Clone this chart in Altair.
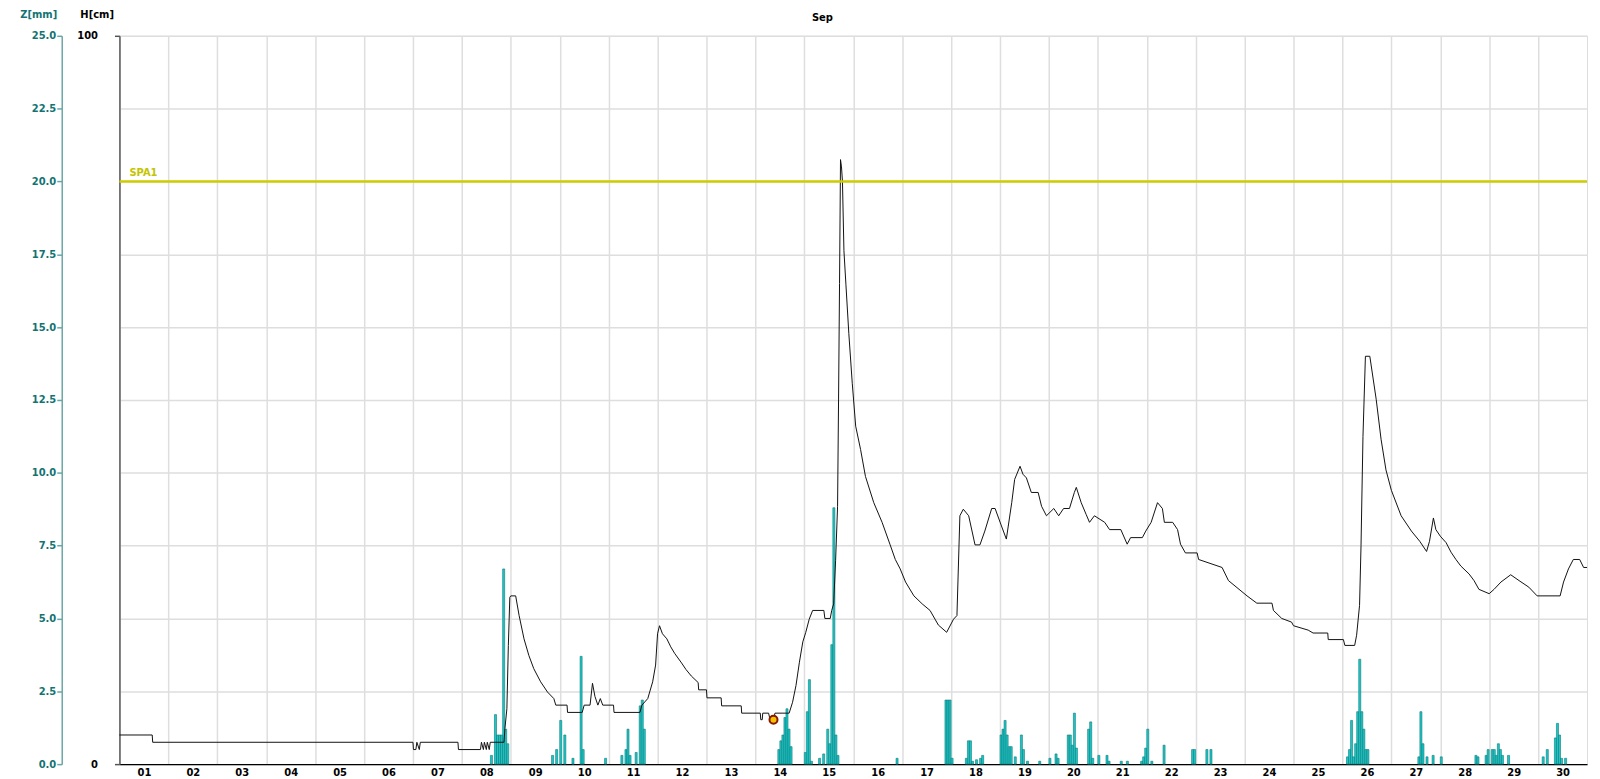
import altair as alt
import pandas as pd

# ---------------- data ----------------
# water level H [cm]; time in days elapsed since 1 Sep 00:00
line_t = [
    0.00, 0.67, 0.68, 6.00, 6.01, 6.06, 6.08, 6.13, 6.15, 6.92, 6.93, 7.38, 7.40, 7.44, 7.46, 7.50, 7.52, 7.56, 7.58, 7.86,
    7.88, 7.92, 7.95, 7.98, 8.00, 8.10, 8.17, 8.27, 8.37, 8.47, 8.61, 8.75, 8.88, 8.92, 9.15, 9.16, 9.46, 9.50, 9.62, 9.67,
    9.72, 9.78, 9.83, 9.88, 10.10, 10.11, 10.64,
    10.68, 10.80, 10.90, 10.96, 11.00, 11.04, 11.10, 11.19, 11.27, 11.35, 11.49, 11.58, 11.69, 11.83, 11.84, 12.00, 12.01,
    12.30, 12.31, 12.71, 12.72, 13.10, 13.11, 13.14, 13.15, 13.27, 13.30, 13.37, 13.40, 13.69,
    13.76, 13.83, 13.90, 13.97, 14.03, 14.10, 14.17, 14.40, 14.42, 14.53, 14.56, 14.60, 14.64, 14.68, 14.70, 14.72, 14.74,
    14.76, 14.78, 14.81, 14.85, 14.91, 14.98, 15.05, 15.15, 15.25, 15.42, 15.59, 15.75, 15.86, 15.96, 16.07, 16.24, 16.41,
    16.57, 16.74, 16.91,
    17.05, 17.12, 17.18, 17.25, 17.36, 17.49, 17.59, 17.69, 17.83, 17.90, 18.03, 18.13, 18.24, 18.30, 18.41, 18.47, 18.54,
    18.64, 18.78, 18.85, 18.95, 19.10, 19.20, 19.30, 19.42, 19.52, 19.56, 19.66, 19.76, 19.83, 19.93, 20.14, 20.24, 20.47,
    20.60, 20.67, 20.91, 20.98, 21.09, 21.22, 21.32, 21.36, 21.53, 21.63, 21.69, 21.79, 22.03, 22.06, 22.54, 22.67, 23.05,
    23.25, 23.56, 23.59, 23.76, 23.96, 24.00, 24.30, 24.40, 24.70, 24.71, 25.02, 25.05, 25.25, 25.29,
    25.35, 25.38, 25.42, 25.47, 25.56, 25.69, 25.79, 25.89, 26.00, 26.20, 26.41, 26.58, 26.72, 26.78, 26.86, 26.91, 27.00,
    27.12, 27.22, 27.32, 27.42, 27.59, 27.69, 27.79, 28.00, 28.10, 28.24, 28.44, 28.61, 28.81, 28.98, 29.45, 29.52, 29.62,
    29.72, 29.85, 29.93, 30.00,
]
line_cm = [
    4.0, 4.0, 3.0, 3.0, 2.0, 2.0, 3.0, 2.0, 3.0, 3.0, 2.0, 2.0, 3.0, 2.0, 3.0, 2.0, 3.0, 2.0, 3.0, 3.0,
    4.9, 7.6, 16.3, 22.9, 23.1, 23.1, 20.4, 17.2, 14.9, 13.1, 11.3, 9.9, 9.0, 8.1, 8.1, 7.1, 7.1, 8.1, 8.1, 11.1,
    9.3, 8.1, 9.0, 8.1, 8.1, 7.1, 7.1,
    8.1, 9.0, 11.3, 13.6, 17.9, 19.0, 17.9, 17.2, 16.1, 15.2, 13.9, 13.0, 12.1, 11.2, 10.2, 10.2, 9.1,
    9.1, 8.0, 8.0, 7.0, 7.0, 6.1, 6.1, 7.0, 7.0, 6.1, 6.1, 7.0, 7.0,
    8.5, 10.8, 14.0, 16.8, 18.1, 19.9, 21.1, 21.1, 20.0, 20.0, 21.1, 22.0, 28.0, 35.4, 50.0, 66.0, 83.0,
    82.0, 80.0, 70.5, 65.9, 59.1, 52.3, 46.4, 43.2, 39.5, 35.9, 33.2, 30.2, 28.1, 26.8, 25.0, 23.1, 22.0,
    21.1, 19.1, 18.1,
    19.9, 20.4, 34.1, 35.0, 34.1, 30.1, 30.1, 32.0, 35.1, 35.1, 32.7, 30.9, 35.9, 39.1, 40.9, 39.8, 39.3,
    37.3, 37.3, 35.4, 34.1, 35.1, 34.1, 35.1, 35.1, 37.3, 38.0, 35.9, 34.3, 33.2, 34.1, 33.2, 32.2, 32.2,
    30.2, 31.1, 31.1, 32.0, 33.2, 35.9, 35.1, 33.2, 33.2, 32.2, 30.2, 29.0, 29.0, 28.1, 27.0, 25.2, 23.1,
    22.1, 22.1, 21.1, 20.0, 19.5, 19.0, 18.4, 18.0, 18.0, 17.1, 17.1, 16.3, 16.3, 17.7,
    21.8, 30.0, 45.0, 56.0, 56.0, 50.1, 44.6, 40.4, 37.6, 34.1, 32.0, 30.6, 29.2, 30.6, 33.8, 32.2, 31.3,
    30.4, 29.1, 28.1, 27.2, 26.1, 25.2, 24.0, 23.4, 24.0, 25.0, 26.0, 25.2, 24.3, 23.1, 23.1, 25.0, 26.8,
    28.1, 28.1, 27.0, 27.0,
]

# hourly precipitation Z [mm]: day of month, hour of day, amount
bar_day = [8, 8, 8, 8, 8, 8, 8, 8,
           9, 9, 10, 10, 10, 10, 10, 10,
           11, 11, 11, 11, 11, 11, 11, 11,
           14, 14, 14, 14, 14, 14, 14,
           15, 15, 15, 15, 15, 15, 15, 15, 15, 15, 15, 15,
           16, 17, 17, 17, 18,
           18, 18, 18, 18, 18, 18, 18,
           19, 19, 19, 19, 19, 19, 19, 19, 19, 19, 19,
           20, 20, 20, 20, 20, 20, 20, 20, 20, 20, 20,
           21, 21, 21, 21, 21, 21, 21, 21,
           22, 22, 22, 22, 22, 23, 23,
           26, 26, 26, 26, 26, 26, 26, 26, 26, 26, 26,
           27, 27, 27, 27, 27,
           28, 28, 28, 28, 28,
           29, 29, 29, 29, 29, 29, 29,
           30, 30, 30, 30, 30, 30, 30]
bar_hour = [14, 16, 17, 18, 19, 20, 21, 22,
            20, 22, 0, 2, 6, 10, 11, 22,
            6, 8, 9, 10, 13, 15, 16, 17,
            11, 12, 13, 14, 15, 16, 17,
            0, 1, 2, 3, 7, 9, 11, 12, 13, 14, 15, 16,
            21, 21, 22, 23, 0,
            7, 8, 9, 10, 12, 14, 15,
            0, 1, 2, 3, 4, 5, 7, 10, 11, 13, 19,
            0, 3, 4, 9, 10, 11, 12, 13, 19, 20, 21,
            0, 4, 5, 11, 14, 21, 22, 23,
            0, 2, 8, 22, 23, 5, 7,
            2, 3, 4, 5, 6, 7, 8, 9, 10, 11, 12,
            13, 14, 15, 17, 20,
            0, 17, 18, 22, 23,
            1, 2, 3, 4, 5, 6, 9,
            2, 4, 8, 9, 10, 11, 13]
bar_mm = [0.3, 1.7, 1.0, 1.0, 1.0, 6.7, 1.2, 0.7,
          0.3, 0.5, 1.5, 1.0, 0.2, 3.7, 0.5, 0.2,
          0.3, 0.5, 1.2, 0.3, 0.4, 2.0, 2.2, 1.2,
          0.5, 0.8, 1.0, 1.6, 1.9, 1.2, 0.6,
          0.4, 1.8, 2.9, 0.1, 0.2, 0.35, 1.2, 0.7, 4.1, 8.8, 1.0, 0.3,
          0.2, 2.2, 2.2, 2.2, 0.2,
          0.2, 0.8, 0.8, 0.1, 0.15, 0.2, 0.3,
          1.0, 1.2, 1.5, 1.0, 0.6, 0.6, 0.25, 1.0, 0.5, 0.1, 0.1,
          0.2, 0.35, 0.2, 1.0, 1.0, 0.65, 1.75, 0.55, 1.2, 1.45, 0.2,
          0.3, 0.3, 0.1, 0.1, 0.1, 0.1, 0.25, 0.55,
          1.2, 0.1, 0.65, 0.5, 0.5, 0.5, 0.5,
          0.25, 0.5, 1.5, 0.25, 0.7, 1.8, 3.6, 1.8, 1.2, 0.5, 0.5,
          0.25, 1.8, 0.7, 0.25, 0.3,
          0.25, 0.3, 0.25, 0.3, 0.5,
          0.5, 0.5, 0.3, 0.7, 0.5, 0.3, 0.3,
          0.25, 0.5, 0.9, 1.4, 1.0, 0.2, 0.2]

event_t = [13.37]
event_cm = [6.1]
threshold_name = ["SPA1"]
threshold_cm = [80]
day_ticks = list(range(1, 31))
z_ticks = [0, 2.5, 5, 7.5, 10, 12.5, 15, 17.5, 20, 22.5, 25]
h_ticks = [0, 10, 20, 30, 40, 50, 60, 70, 80, 90, 100]

# ---------------- tables ----------------
line_df = pd.DataFrame({"day": [1 + t for t in line_t], "cm": line_cm})
bar_df = pd.DataFrame({"d": bar_day, "h": bar_hour, "mm": bar_mm})
bar_df["start"] = bar_df["d"] + bar_df["h"] / 24.0
bar_df["end"] = bar_df["start"] + 1 / 24.0
ev_df = pd.DataFrame({"day": [1 + t for t in event_t], "cm": event_cm})
thr_df = pd.DataFrame({"name": threshold_name, "cm": threshold_cm})

FONT = "DejaVu Sans"
TEAL = "#137373"
GRID = "#dedede"
W, H = 1475, 732

xscale = alt.Scale(domain=[1, 31], nice=False, zero=False)
hscale = alt.Scale(domain=[0, 100], nice=False)
zscale = alt.Scale(domain=[0, 25], nice=False)

x_axis = alt.Axis(
    values=day_ticks, grid=True, gridColor=GRID, gridWidth=1.5, ticks=False, tickSize=0,
    labelExpr="(datum.value < 10 ? '0' : '') + datum.value", labelOffset=W / 60.0,
    labelPadding=3, labelFont=FONT, labelFontSize=10, labelFontWeight="bold",
    labelColor="black", labelFlush=False, labelOverlap=False,
    domainColor="black", domainWidth=1.5, title=None,
)
z_axis = alt.Axis(
    orient="left", offset=58, values=z_ticks, format=".1f", grid=False,
    domainColor="#6aa6a6", domainWidth=1.5, tickColor="#6aa6a6", tickSize=5, tickWidth=1.5,
    labelColor=TEAL, labelFont=FONT, labelFontSize=10, labelFontWeight="bold", labelPadding=1,
    title="Z[mm]", titleAngle=0, titleAlign="right", titleBaseline="middle",
    titleX=-5, titleY=-21, titleColor=TEAL, titleFont=FONT, titleFontSize=10, titleFontWeight="bold",
)
h_axis = alt.Axis(
    orient="left", offset=0, values=h_ticks, grid=True, gridColor=GRID, gridWidth=1.5,
    labelExpr="datum.value == 0 || datum.value == 100 ? datum.label : ''",
    tickSize=5, tickColor="#555555", tickWidth=1.5,
    tickOpacity={"condition": {"test": "datum.value == 0 || datum.value == 100", "value": 1}, "value": 0},
    domainColor="#5a5a5a", domainWidth=1.5,
    labelPadding=17, labelFont=FONT, labelFontSize=10, labelFontWeight="bold", labelColor="black",
    title="H[cm]", titleAngle=0, titleAlign="right", titleBaseline="middle",
    titleX=-6, titleY=-21, titleColor="black", titleFont=FONT, titleFontSize=10, titleFontWeight="bold",
)

bars = alt.Chart(bar_df).mark_rect(fill="#1ec6c6", stroke="#0c7a7a", strokeWidth=0.6).encode(
    x=alt.X("start:Q", scale=xscale, axis=x_axis),
    x2="end:Q",
    y=alt.Y("mm:Q", scale=zscale, axis=z_axis),
    y2=alt.datum(0),
)

level = alt.Chart(line_df).mark_line(color="#111111", strokeWidth=1).encode(
    x=alt.X("day:Q", scale=xscale, axis=x_axis),
    y=alt.Y("cm:Q", scale=hscale, axis=h_axis),
)

rule = alt.Chart(thr_df).mark_rule(color="#cccc00", strokeWidth=2.5).encode(
    y=alt.Y("cm:Q", scale=hscale, axis=None),
)
rule_text = alt.Chart(thr_df).mark_text(
    align="left", baseline="bottom", dy=-3, color="#c4c400", font=FONT, fontSize=10, fontWeight="bold"
).encode(
    x=alt.value(10),
    y=alt.Y("cm:Q", scale=hscale, axis=None),
    text="name:N",
)

event = alt.Chart(ev_df).mark_point(
    shape="circle", filled=True, fill="#f2c200", stroke="#8b1800", strokeWidth=2, size=65, opacity=1
).encode(
    x=alt.X("day:Q", scale=xscale, axis=x_axis),
    y=alt.Y("cm:Q", scale=hscale, axis=None),
)

chart = alt.layer(bars, level, rule, rule_text, event).resolve_scale(y="independent").properties(
    width=W, height=H,
    title=alt.TitleParams("Sep", font=FONT, fontSize=10, fontWeight="bold", color="black",
                          anchor="middle", dx=-31, offset=-13, frame="group"),
    padding={"left": 112, "top": 26, "right": 5, "bottom": 13},
    autosize=alt.AutoSizeParams(type="none"),
).configure_view(stroke="#6a6a6a", strokeWidth=1.5).configure(background="white")

chart.save("out.html", embed_options={"renderer": "svg", "actions": False})
